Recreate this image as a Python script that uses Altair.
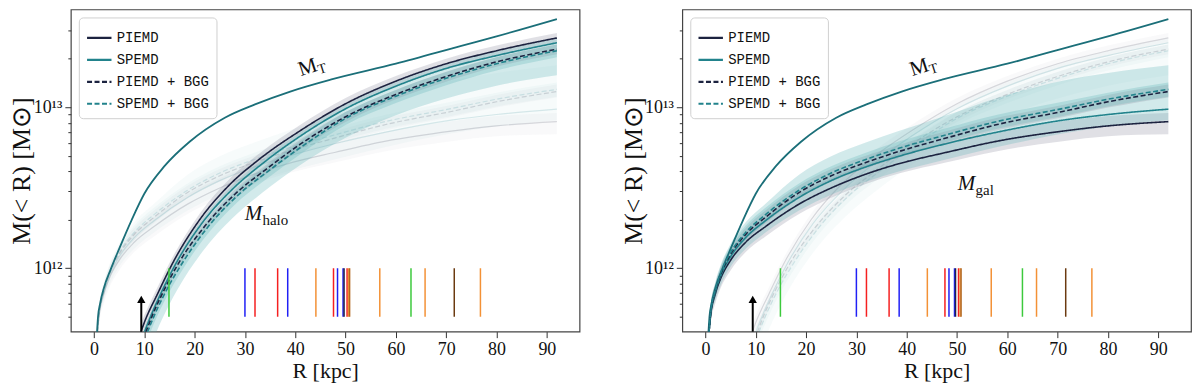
import altair as alt
import pandas as pd

MODELS = ["PIEMD", "SPEMD", "PIEMD + BGG", "SPEMD + BGG"]

# ---- total mass M_T (all four models coincide); R in kpc, M in 1e12 Msun
MT_R = [0.6, 0.8, 1.2, 2, 3.3, 5, 7.5, 10, 14, 19, 26, 32, 39, 47, 60, 73, 80, 92]
MT_M = [0.40, 0.50, 0.60, 0.76, 0.98, 1.32, 2.00, 2.90, 4.30, 6.10, 8.60, 10.4, 12.5, 14.8, 18.6, 24.0, 27.5, 35.2]

# ---- halo component
HALO_PIEMD_R = [9.3, 10, 12.6, 15.8, 21, 27, 33, 40.8, 50, 60, 70, 80, 92]
HALO_PIEMD_M = [0.40, 0.46, 0.69, 1.10, 2.00, 3.31, 4.79, 7.08, 10.5, 14.5, 18.6, 22.4, 26.9]
HALO_PIEMD_LO = [0.36, 0.41, 0.62, 1.00, 1.82, 3.02, 4.40, 6.50, 9.7, 13.4, 17.2, 20.7, 24.9]
HALO_PIEMD_HI = [0.45, 0.51, 0.76, 1.20, 2.18, 3.60, 5.20, 7.70, 11.4, 15.6, 20.0, 24.1, 28.9]

HALO_SPEMD_R = [10.0, 11, 13.5, 16.5, 21.5, 27.5, 33.5, 41, 50, 60, 70, 80, 92]
HALO_SPEMD_M = [0.40, 0.48, 0.72, 1.10, 1.91, 3.09, 4.47, 6.61, 9.77, 13.5, 17.4, 20.9, 25.1]
HALO_SPEMD_LO = [0.28, 0.32, 0.48, 0.73, 1.26, 2.04, 2.95, 4.37, 6.45, 8.9, 11.3, 13.6, 15.8]
HALO_SPEMD_HI = [0.43, 0.51, 0.77, 1.17, 2.03, 3.28, 4.74, 7.00, 10.4, 14.3, 18.4, 22.2, 26.6]

HALO_PIEMDB_R = [10.3, 11.5, 14, 17, 22, 28, 34, 41, 50, 60, 70, 80, 92]
HALO_PIEMDB_M = [0.40, 0.50, 0.74, 1.10, 1.82, 2.88, 4.07, 5.89, 8.71, 12.0, 15.5, 19.1, 22.9]
HALO_PIEMDB_LO = [0.37, 0.46, 0.69, 1.02, 1.69, 2.68, 3.79, 5.48, 8.10, 11.2, 14.4, 17.8, 21.3]
HALO_PIEMDB_HI = [0.43, 0.54, 0.79, 1.18, 1.95, 3.08, 4.35, 6.30, 9.32, 12.8, 16.6, 20.4, 24.5]

HALO_SPEMDB_R = [10.6, 12, 14.5, 17.5, 22.5, 28.5, 34.5, 41.5, 50, 60, 70, 80, 92]
HALO_SPEMDB_M = [0.40, 0.51, 0.74, 1.07, 1.78, 2.82, 3.98, 5.75, 8.51, 11.7, 15.1, 18.6, 22.4]
HALO_SPEMDB_LO = [0.36, 0.46, 0.67, 0.97, 1.62, 2.57, 3.62, 5.23, 7.74, 10.6, 13.7, 16.9, 20.4]
HALO_SPEMDB_HI = [0.44, 0.56, 0.81, 1.17, 1.95, 3.09, 4.36, 6.30, 9.32, 12.8, 16.5, 20.4, 24.5]

# ---- galaxy component
GAL_R = [0.7, 1, 2, 3, 5, 8, 12, 18.6, 25, 32, 38.4, 48, 58, 71, 80, 92]
GAL_PIEMD_M = [0.40, 0.50, 0.70, 0.86, 1.12, 1.45, 1.82, 2.50, 3.15, 3.85, 4.45, 5.25, 6.15, 7.10, 7.65, 8.13]
GAL_PIEMD_LO = [0.35, 0.44, 0.61, 0.75, 0.97, 1.26, 1.58, 2.17, 2.74, 3.35, 3.87, 4.55, 5.33, 6.15, 6.60, 6.78]
GAL_PIEMD_HI = [0.45, 0.57, 0.80, 0.99, 1.29, 1.67, 2.09, 2.88, 3.62, 4.43, 5.12, 6.04, 7.07, 8.17, 8.80, 9.20]

GAL_SPEMD_M = [0.40, 0.51, 0.72, 0.89, 1.18, 1.55, 1.98, 2.75, 3.50, 4.27, 4.95, 5.95, 7.00, 8.30, 9.00, 9.72]
GAL_SPEMD_LO = [0.36, 0.46, 0.64, 0.78, 1.02, 1.32, 1.67, 2.28, 2.86, 3.45, 3.98, 4.75, 5.65, 6.85, 7.60, 8.30]
GAL_SPEMD_HI = [0.44, 0.57, 0.83, 1.04, 1.42, 1.93, 2.52, 3.80, 4.95, 6.05, 7.10, 8.90, 11.4, 14.6, 16.3, 18.2]

GAL_PIEMDB_M = [0.40, 0.51, 0.73, 0.91, 1.22, 1.62, 2.08, 2.95, 3.75, 4.55, 5.30, 6.45, 7.80, 9.40, 10.8, 12.5]
GAL_PIEMDB_LO = [0.37, 0.47, 0.67, 0.84, 1.12, 1.49, 1.91, 2.71, 3.45, 4.19, 4.88, 5.93, 7.18, 8.65, 9.94, 11.5]
GAL_PIEMDB_HI = [0.44, 0.56, 0.80, 1.00, 1.34, 1.78, 2.29, 3.25, 4.13, 5.01, 5.83, 7.10, 8.58, 10.3, 11.9, 13.8]

GAL_SPEMDB_M = [0.40, 0.52, 0.74, 0.93, 1.25, 1.67, 2.16, 3.05, 3.90, 4.75, 5.55, 6.75, 8.15, 9.80, 11.2, 12.9]
GAL_SPEMDB_LO = [0.36, 0.47, 0.67, 0.84, 1.13, 1.50, 1.94, 2.75, 3.51, 4.28, 5.00, 6.08, 7.34, 8.82, 10.1, 11.6]
GAL_SPEMDB_HI = [0.44, 0.57, 0.81, 1.02, 1.38, 1.84, 2.38, 3.36, 4.29, 5.23, 6.11, 7.43, 8.97, 10.8, 12.3, 14.2]

# ---- multiple-image radii (kpc) and colours
IMG_R = [14.9, 30.0, 32.0, 36.5, 38.5, 44.1, 47.6, 48.4, 49.5, 49.7, 50.3, 50.6, 50.8, 56.8, 63.0, 65.8, 71.6, 76.8]
IMG_C = ["#3cc93c", "#2020f5", "#f52020", "#f52020", "#2020f5", "#f39136", "#f52020", "#2020f5", "#2020f5",
         "#20204a", "#f52020", "#f39136", "#b0651e", "#f39136", "#3cc93c", "#f39136", "#6b3a10", "#f39136"]

ARROW_R = [9.4]

XTICKS = [0, 10, 20, 30, 40, 50, 60, 70, 80, 90]
YTICKS = [5e11, 6e11, 7e11, 8e11, 9e11, 1e12, 2e12, 3e12, 4e12, 5e12, 6e12, 7e12, 8e12, 9e12,
          1e13, 2e13, 3e13]

LINE_COL = {"PIEMD": "#1c2340", "SPEMD": "#22838c", "PIEMD + BGG": "#1c2340", "SPEMD + BGG": "#22838c"}
BAND_COL = {"PIEMD": "#8e91a2", "SPEMD": "#5fb3b8", "PIEMD + BGG": "#8e91a2", "SPEMD + BGG": "#5fb3b8"}

CURVES = [
    ("halo", "PIEMD", HALO_PIEMD_R, HALO_PIEMD_M, HALO_PIEMD_LO, HALO_PIEMD_HI),
    ("halo", "SPEMD", HALO_SPEMD_R, HALO_SPEMD_M, HALO_SPEMD_LO, HALO_SPEMD_HI),
    ("halo", "PIEMD + BGG", HALO_PIEMDB_R, HALO_PIEMDB_M, HALO_PIEMDB_LO, HALO_PIEMDB_HI),
    ("halo", "SPEMD + BGG", HALO_SPEMDB_R, HALO_SPEMDB_M, HALO_SPEMDB_LO, HALO_SPEMDB_HI),
    ("gal", "PIEMD", GAL_R, GAL_PIEMD_M, GAL_PIEMD_LO, GAL_PIEMD_HI),
    ("gal", "SPEMD", GAL_R, GAL_SPEMD_M, GAL_SPEMD_LO, GAL_SPEMD_HI),
    ("gal", "PIEMD + BGG", GAL_R, GAL_PIEMDB_M, GAL_PIEMDB_LO, GAL_PIEMDB_HI),
    ("gal", "SPEMD + BGG", GAL_R, GAL_SPEMDB_M, GAL_SPEMDB_LO, GAL_SPEMDB_HI),
]

rows = []
for comp, model, R, M, LO, HI in CURVES:
    for r, m, lo, hi in zip(R, M, LO, HI):
        rows.append(dict(R=r, M=m * 1e12, lo=lo * 1e12, hi=hi * 1e12, comp=comp, model=model,
                         lc=LINE_COL[model], bc=BAND_COL[model], dashed=("BGG" in model)))
df = pd.DataFrame(rows)
mt = pd.DataFrame({"R": MT_R, "M": [m * 1e12 for m in MT_M]})
img = pd.DataFrame({"R": IMG_R, "c": IMG_C})
arrow = pd.DataFrame({"R": ARROW_R})

SERIF = "Liberation Serif"
XSCALE = alt.Scale(domain=[-4.6, 96.5], nice=False, zero=False)
YSCALE = alt.Scale(type="log", domain=[4.04e11, 4.04e13], nice=False)
YTITLE = "M(< R)  [M⊙]"
XTITLE = "R [kpc]"

xaxis = alt.Axis(values=XTICKS, grid=False, domain=False, tickSize=6, tickColor="#333",
                 labelFont=SERIF, labelFontSize=18, labelColor="#111", labelPadding=3,
                 titleFont=SERIF, titleFontSize=22, titleFontWeight="normal", titleColor="#111",
                 titlePadding=2)
yaxis = alt.Axis(values=YTICKS, grid=False, domain=False,
                 labelExpr="datum.value == 1e12 ? '10¹²' : (datum.value == 1e13 ? '10¹³' : '')",
                 tickSize={"condition": {"test": "datum.value == 1e12 || datum.value == 1e13", "value": 6},
                           "value": 3},
                 tickColor="#333", labelOverlap=False, labelFont=SERIF, labelFontSize=18,
                 labelColor="#111", labelPadding=3, minExtent=34, maxExtent=34,
                 titleFont=SERIF, titleFontSize=26, titleFontWeight="normal", titleColor="#111",
                 titlePadding=2)

X = alt.X("R:Q", scale=XSCALE, axis=xaxis, title=XTITLE)


def Y(field):
    return alt.Y(f"{field}:Q", scale=YSCALE, axis=yaxis, title=YTITLE)


def legend():
    return alt.Legend(title=None, orient="top-left", offset=8, fillColor="white",
                      strokeColor="#d0d0d0", cornerRadius=4, padding=7,
                      labelFont="Liberation Mono", labelFontSize=14, labelColor="#111",
                      symbolType="stroke", symbolSize=600, symbolStrokeWidth=2.2,
                      symbolOpacity=1, rowPadding=1)


def panel(hl, other, label_sub, label_R, label_M):
    base = alt.Chart(df)
    lines = base.transform_filter(alt.datum.comp == hl).mark_line(
        strokeWidth=1.6, opacity=1, clip=True, interpolate="monotone").encode(
        x=X, y=Y("M"),
        stroke=alt.Stroke("model:N", scale=alt.Scale(domain=MODELS, range=[LINE_COL[m] for m in MODELS]),
                          sort=MODELS, legend=legend()),
        strokeDash=alt.StrokeDash("model:N",
                                  scale=alt.Scale(domain=MODELS, range=[[1, 0], [1, 0], [5, 2.5], [5, 2.5]]),
                                  sort=MODELS, legend=legend()))
    faint_band = base.transform_filter(alt.datum.comp == other).mark_area(
        opacity=0.05, clip=True, interpolate="monotone").encode(
        x=X, y=Y("lo"), y2="hi:Q", fill=alt.Fill("bc:N", scale=None), detail="model:N")
    faint_solid = base.transform_filter((alt.datum.comp == other) & (alt.datum.dashed == False)).mark_line(
        opacity=0.16, strokeWidth=1.2, clip=True, interpolate="monotone").encode(
        x=X, y=Y("M"), color=alt.Color("lc:N", scale=None), detail="model:N")
    faint_dash = base.transform_filter((alt.datum.comp == other) & (alt.datum.dashed == True)).mark_line(
        opacity=0.16, strokeWidth=1.2, strokeDash=[5, 2.5], clip=True, interpolate="monotone").encode(
        x=X, y=Y("M"), color=alt.Color("lc:N", scale=None), detail="model:N")
    bands = base.transform_filter(alt.datum.comp == hl).mark_area(
        opacity=0.28, clip=True, interpolate="monotone").encode(
        x=X, y=Y("lo"), y2="hi:Q", fill=alt.Fill("bc:N", scale=None), detail="model:N")
    total = alt.Chart(mt).mark_line(color="#1b6f79", strokeWidth=1.8, clip=True,
                                    interpolate="monotone").encode(x=X, y=Y("M"))
    rules = alt.Chart(img).mark_rule(strokeWidth=1.5).encode(
        x=X, y=alt.datum(5.0e11, scale=YSCALE), y2=alt.datum(1.0e12), color=alt.Color("c:N", scale=None))
    arr_shaft = alt.Chart(arrow).mark_rule(strokeWidth=2, color="black").encode(
        x=X, y=alt.datum(4.04e11, scale=YSCALE), y2=alt.datum(6.2e11))
    arr_head = alt.Chart(arrow).mark_point(shape="triangle-up", filled=True, color="black", size=70,
                                           opacity=1).encode(x=X, y=alt.datum(6.4e11, scale=YSCALE))
    mtlab = pd.DataFrame({"R": [42.5], "M": [1.76e13]})
    mt_M = alt.Chart(mtlab).mark_text(text="M", font=SERIF, fontSize=21, angle=342, color="#111",
                                      align="center", baseline="middle").encode(x=X, y=Y("M"))
    mt_T = alt.Chart(mtlab).mark_text(text="T", font=SERIF, fontSize=14, angle=342, color="#111",
                                      align="left", baseline="middle", dx=9, dy=6).encode(x=X, y=Y("M"))
    clab = pd.DataFrame({"R": [label_R], "M": [label_M]})
    c_M = alt.Chart(clab).mark_text(text="M", font=SERIF, fontSize=21, fontStyle="italic", color="#111",
                                    align="center", baseline="middle").encode(x=X, y=Y("M"))
    c_sub = alt.Chart(clab).mark_text(text=label_sub, font=SERIF, fontSize=15, color="#111",
                                      align="left", baseline="middle", dx=9, dy=6).encode(x=X, y=Y("M"))
    return alt.layer(faint_band, faint_solid, faint_dash, bands, total, lines, rules,
                     arr_shaft, arr_head, mt_M, mt_T, c_M, c_sub).properties(width=510, height=323)


left = panel("halo", "gal", "halo", 31.7, 2.17e12)
right = panel("gal", "halo", "gal", 51.9, 3.31e12)

chart = alt.hconcat(left, right, spacing=39).resolve_legend(
    stroke="independent", strokeDash="independent").resolve_scale(
    stroke="independent", strokeDash="independent").properties(
    padding={"left": 0, "top": 0, "right": 0, "bottom": 0}).configure_view(
    stroke="#444", strokeWidth=1.2)

chart.save("out.html", embed_options={"renderer": "svg", "actions": False})
